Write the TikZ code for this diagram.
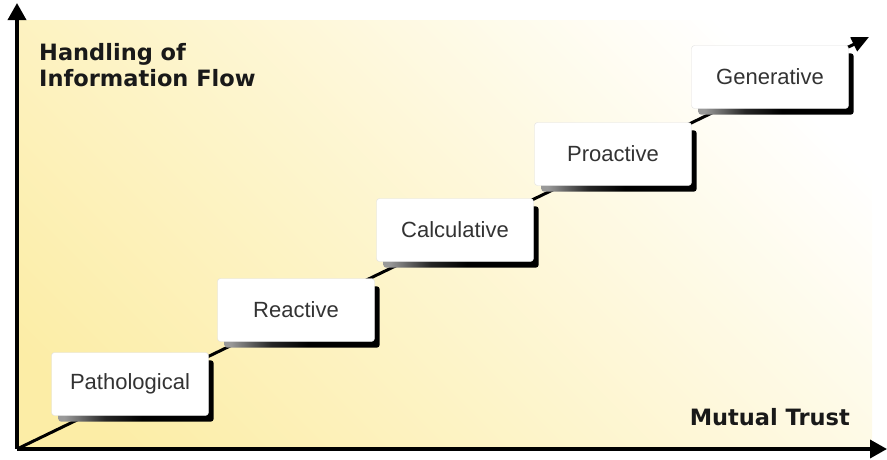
\documentclass[tikz,border=0pt]{standalone}
\usepackage{fontspec}
\setmainfont{Liberation Sans}
\newfontfamily\headfont{DejaVu Sans}
\usetikzlibrary{arrows.meta,calc}

\definecolor{ylw}{RGB}{252,237,166}
\definecolor{txt}{RGB}{51,51,51}

% diagonal wash behind the chart
\pgfdeclarehorizontalshading{bgfade}{100bp}{color(0bp)=(ylw); color(20bp)=(ylw); color(50bp)=(ylw!50!white); color(77bp)=(white); color(100bp)=(white)}
% drop shadow under each stage box
\pgfdeclarehorizontalshading{shadowfade}{100bp}{color(0bp)=(black!40); color(27bp)=(black!40); color(40bp)=(black!85); color(52bp)=(black); color(100bp)=(black)}

\pgfdeclarelayer{back}
\pgfdeclarelayer{mid}
\pgfsetlayers{back,mid,main}

\tikzset{
  stagebox/.style={draw=black!12, fill=white, rounded corners=3pt,
    minimum width=157pt, minimum height=63pt, inner sep=0pt,
    text=txt, font=\fontsize{22}{22}\selectfont},
  axisline/.style={line width=3.5pt, -{Triangle[length=17pt,width=18pt]}},
  heading/.style={font=\headfont\bfseries\fontsize{22.5}{22.5}\selectfont, inner sep=0pt, text=black!90}
}

\begin{document}
\begin{tikzpicture}[x=1pt,y=-1pt]
\useasboundingbox (0,0) rectangle (887,459);

\coordinate (origin) at (17,449);
\coordinate (ytip) at (17,3);
\coordinate (xtip) at (887,449);
\coordinate (dtip) at (869,37);

% stage boxes
\node[stagebox] (s1) at (130,384) {Pathological};
\node[stagebox] (s2) at (296,310) {Reactive};
\node[stagebox] (s3) at (455,230) {Calculative};
\node[stagebox] (s4) at (613,154) {Proactive};
\node[stagebox] (s5) at (770,77)  {Generative};

% background wash
\begin{pgfonlayer}{back}
  \shade[shading=bgfade, shading angle=45] (17,20) rectangle (872,449);
\end{pgfonlayer}

% rising trend line and shadows
\begin{pgfonlayer}{mid}
  \draw[line width=3pt, -{Triangle[length=17pt,width=15pt]}] (origin) -- (dtip);
  \foreach \n in {s1,s2,s3,s4,s5}{
    \shade[shading=shadowfade, rounded corners=3pt]
      ($(\n.south west)+(7,6)$) rectangle ($(\n.north east)+(5,8)$);
  }
\end{pgfonlayer}

% axes
\draw[axisline] (origin) -- (ytip);
\draw[axisline] (origin) -- (xtip);

% axis labels
\node[heading, anchor=base west] (ylab1) at (39,60) {Handling of};
\node[heading, anchor=base west] (ylab2) at (39,86) {Information Flow};
\node[heading, anchor=base east] (xlab) at (850,425) {Mutual Trust};
\end{tikzpicture}
\end{document}
